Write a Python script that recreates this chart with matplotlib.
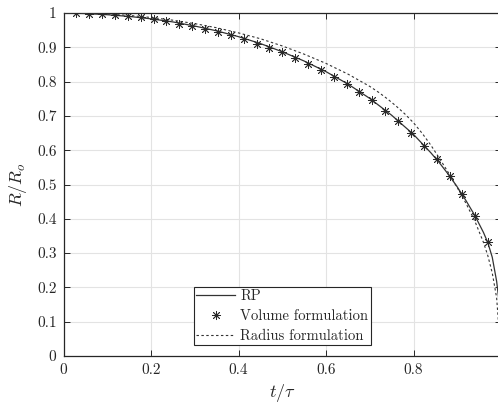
import matplotlib
matplotlib.use("Agg")
import matplotlib.pyplot as plt
from matplotlib.ticker import FuncFormatter

plt.rcParams['mathtext.fontset'] = 'cm'
plt.rcParams['font.family'] = ['cmr10', 'DejaVu Serif']
plt.rcParams['axes.formatter.use_mathtext'] = True

# RP (solid line)
rp_t = [0.0, 0.05, 0.1, 0.15, 0.2, 0.25, 0.3, 0.35, 0.4, 0.45, 0.5, 0.55, 0.6,
        0.65, 0.7, 0.75, 0.8, 0.82, 0.84, 0.86, 0.88, 0.9, 0.92, 0.94, 0.96,
        0.97, 0.98, 0.99, 0.995, 0.998, 1.0]
rp_r = [1.0, 0.9985, 0.995, 0.990, 0.983, 0.974, 0.962, 0.948, 0.931, 0.911,
        0.887, 0.860, 0.829, 0.793, 0.751, 0.702, 0.646, 0.619, 0.592, 0.562,
        0.529, 0.493, 0.453, 0.410, 0.360, 0.330, 0.288, 0.218, 0.165, 0.110,
        0.0]

# Volume formulation (stars)
vol_t = [0.0294, 0.0588, 0.0882, 0.1176, 0.1471, 0.1765, 0.2059, 0.2353,
         0.2647, 0.2941, 0.3235, 0.3529, 0.3824, 0.4118, 0.4412, 0.4706,
         0.5000, 0.5294, 0.5588, 0.5882, 0.6176, 0.6471, 0.6765, 0.7059,
         0.7353, 0.7647, 0.7941, 0.8235, 0.8529, 0.8824, 0.9118, 0.9412,
         0.9706]
vol_r = [0.999, 0.998, 0.997, 0.994, 0.991, 0.987, 0.982, 0.976, 0.969, 0.962,
         0.954, 0.945, 0.936, 0.925, 0.911, 0.899, 0.885, 0.869, 0.852, 0.834,
         0.814, 0.794, 0.771, 0.745, 0.715, 0.685, 0.651, 0.613, 0.573, 0.526,
         0.471, 0.409, 0.331]

# Radius formulation (dashed)
rad_t = [0.0, 0.05, 0.1, 0.15, 0.2, 0.25, 0.3, 0.35, 0.4, 0.45, 0.5, 0.55,
         0.6, 0.65, 0.7, 0.72, 0.74, 0.76, 0.78, 0.8, 0.82, 0.84, 0.86, 0.88,
         0.9, 0.92, 0.94, 0.96, 0.97, 0.98, 0.99, 1.0]
rad_r = [1.0, 0.9993, 0.997, 0.993, 0.987, 0.979, 0.969, 0.957, 0.942, 0.925,
         0.904, 0.880, 0.853, 0.822, 0.786, 0.769, 0.750, 0.729, 0.706, 0.680,
         0.649, 0.614, 0.575, 0.534, 0.491, 0.445, 0.394, 0.331, 0.292, 0.242,
         0.170, 0.0]

x_ticks = [0, 0.2, 0.4, 0.6, 0.8, 1]
y_ticks = [0, 0.1, 0.2, 0.3, 0.4, 0.5, 0.6, 0.7, 0.8, 0.9, 1]

W, H = 498, 404
fig = plt.figure(figsize=(W / 100, H / 100), dpi=100)
ax = fig.add_axes([63.5 / W, (H - 356) / H, (501 - 63.5) / W, (356 - 13) / H])

dark = '#262626'
ax.plot(rp_t, rp_r, '-', color='#333333', lw=0.9, label='RP', zorder=3)
ax.plot(vol_t, vol_r, linestyle='none', marker=(8, 2, 0), markersize=6.5,
        markeredgewidth=0.6, color='#2a2a2a', label='Volume formulation',
        zorder=4)
ax.plot(rad_t, rad_r, linestyle=(0, (2.2, 2.2)), color='#333333', lw=0.8,
        label='Radius formulation', zorder=3)

ax.set_xlim(0, 1)
ax.set_ylim(0, 1)
ax.set_xticks(x_ticks)
ax.set_yticks(y_ticks)
fmt = FuncFormatter(lambda v, p: '%g' % v)
ax.xaxis.set_major_formatter(fmt)
ax.yaxis.set_major_formatter(fmt)

ax.grid(True, color='#e3e3e3', lw=0.8, zorder=0)
ax.set_axisbelow(True)
ax.tick_params(direction='in', length=4, width=0.7, colors=dark,
               labelsize=11, top=True, right=True, pad=5)
for s in ax.spines.values():
    s.set_color(dark)
    s.set_linewidth(0.9)

ax.set_xlabel(r'$t/\tau$', fontsize=13, color=dark, labelpad=4)
ax.set_ylabel(r'$R/R_o$', fontsize=13, color=dark, labelpad=6)

leg = ax.legend(loc='lower center', bbox_to_anchor=(0.5, 0.032),
                borderaxespad=0, fancybox=False, edgecolor=dark,
                framealpha=1, fontsize=10.5, handlelength=2.7,
                handletextpad=0.35, borderpad=0.15, labelspacing=0.42,
                numpoints=1)
leg.get_frame().set_linewidth(0.8)
for t in leg.get_texts():
    t.set_color(dark)

fig.savefig('out.png', dpi=100)
